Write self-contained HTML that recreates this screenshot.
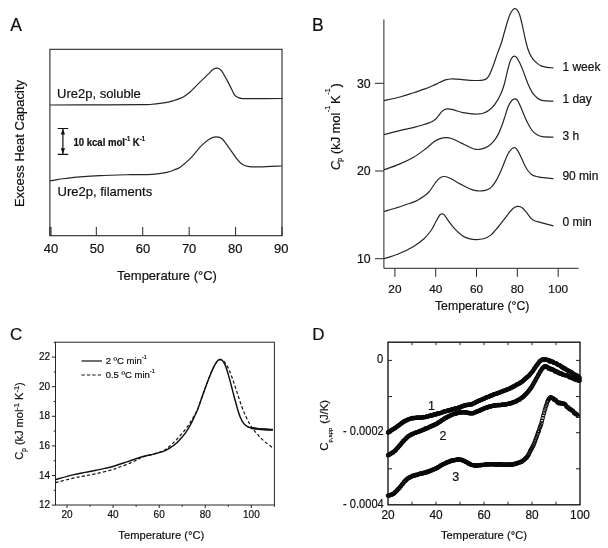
<!DOCTYPE html>
<html><head><meta charset="utf-8"><title>Figure</title>
<style>
html,body{margin:0;padding:0;background:#fff;}
svg{display:block;font-family:"Liberation Sans",sans-serif;}
text{fill:#101010;stroke:#101010;stroke-width:0.2px}
</style></head>
<body>
<svg width="608" height="548" viewBox="0 0 608 548">
<rect x="0" y="0" width="608" height="548" fill="#ffffff" stroke="none"/>
<rect x="49.9" y="49.3" width="232.1" height="186.39999999999998" fill="none" stroke="#262626" stroke-width="1.1"/>
<line x1="49.90" y1="235.7" x2="49.90" y2="226.89999999999998" stroke="#262626" stroke-width="1"/>
<text x="50.90" y="252.8" font-size="13" text-anchor="middle">40</text>
<line x1="96.32" y1="235.7" x2="96.32" y2="226.89999999999998" stroke="#262626" stroke-width="1"/>
<text x="96.98" y="252.8" font-size="13" text-anchor="middle">50</text>
<line x1="142.74" y1="235.7" x2="142.74" y2="226.89999999999998" stroke="#262626" stroke-width="1"/>
<text x="143.06" y="252.8" font-size="13" text-anchor="middle">60</text>
<line x1="189.16" y1="235.7" x2="189.16" y2="226.89999999999998" stroke="#262626" stroke-width="1"/>
<text x="189.14" y="252.8" font-size="13" text-anchor="middle">70</text>
<line x1="235.58" y1="235.7" x2="235.58" y2="226.89999999999998" stroke="#262626" stroke-width="1"/>
<text x="235.22" y="252.8" font-size="13" text-anchor="middle">80</text>
<line x1="282.00" y1="235.7" x2="282.00" y2="226.89999999999998" stroke="#262626" stroke-width="1"/>
<text x="281.30" y="252.8" font-size="13" text-anchor="middle">90</text>
<path d="M50.00,105.00 C58.33,104.98 85.00,104.95 100.00,104.90 C115.00,104.85 131.67,104.77 140.00,104.70 C148.33,104.63 146.03,104.80 150.00,104.50 C153.97,104.20 160.47,103.37 163.80,102.90 C167.13,102.43 168.08,102.17 170.00,101.70 C171.92,101.23 173.63,100.65 175.30,100.10 C176.97,99.55 178.47,99.05 180.00,98.40 C181.53,97.75 182.83,97.27 184.50,96.20 C186.17,95.13 188.08,93.68 190.00,92.00 C191.92,90.32 193.07,89.00 196.00,86.10 C198.93,83.20 204.72,77.40 207.60,74.60 C210.48,71.80 211.70,70.38 213.30,69.30 C214.90,68.22 215.85,67.87 217.20,68.10 C218.55,68.33 219.55,68.28 221.40,70.70 C223.25,73.12 226.20,78.70 228.30,82.60 C230.40,86.50 232.63,91.77 234.00,94.10 C235.37,96.43 235.67,95.97 236.50,96.60 C237.33,97.23 238.08,97.58 239.00,97.90 C239.92,98.22 240.72,98.37 242.00,98.50 C243.28,98.63 239.97,98.70 246.70,98.70 C253.43,98.70 276.45,98.53 282.40,98.50" fill="none" stroke="#262626" stroke-width="1.2"/>
<path d="M50.00,181.00 C51.17,180.77 54.50,180.02 57.00,179.60 C59.50,179.18 61.17,178.95 65.00,178.50 C68.83,178.05 74.17,177.38 80.00,176.90 C85.83,176.42 91.67,175.97 100.00,175.60 C108.33,175.23 121.33,174.92 130.00,174.70 C138.67,174.48 145.83,174.70 152.00,174.30 C158.17,173.90 163.33,173.02 167.00,172.30 C170.67,171.58 171.75,170.90 174.00,170.00 C176.25,169.10 177.68,168.92 180.50,166.90 C183.32,164.88 187.45,161.40 190.90,157.90 C194.35,154.40 198.08,149.05 201.20,145.90 C204.32,142.75 207.08,140.50 209.60,139.00 C212.12,137.50 214.18,136.90 216.30,136.90 C218.42,136.90 220.05,137.00 222.30,139.00 C224.55,141.00 227.30,145.50 229.80,148.90 C232.30,152.30 235.30,156.90 237.30,159.40 C239.30,161.90 240.05,162.75 241.80,163.90 C243.55,165.05 244.82,165.80 247.80,166.30 C250.78,166.80 254.07,166.95 259.70,166.90 C265.33,166.85 277.95,166.15 281.60,166.00" fill="none" stroke="#262626" stroke-width="1.2"/>
<text x="57" y="97.5" font-size="13">Ure2p, soluble</text>
<text x="57.5" y="196" font-size="13">Ure2p, filaments</text>
<text x="10.3" y="31.3" font-size="17.5">A</text>
<text transform="translate(24.3,143.5) rotate(-90)" font-size="13" text-anchor="middle">Excess Heat Capacity</text>
<text x="167" y="279.8" font-size="13" text-anchor="middle">Temperature (°C)</text>
<line x1="51" y1="235.7" x2="51" y2="226.89999999999998" stroke="#262626" stroke-width="1"/>
<path d="M57.7,128.5H68.2M57.7,154.3H68.2M62.9,128.5V154.3" stroke="#111" stroke-width="1.2" fill="none"/>
<path d="M62.9,129 l-2.2,5.5 h4.4z M62.9,153.8 l-2.2,-5.5 h4.4z" fill="#111"/>
<text x="73.4" y="145.8" font-size="10.6" font-weight="bold" textLength="71.6" lengthAdjust="spacingAndGlyphs">10 kcal mol<tspan font-size="6.5" dy="-5">-1</tspan><tspan dy="5"> K</tspan><tspan font-size="6.5" dy="-5">-1</tspan></text>
<path d="M383.9,19.5V268.3H578.5" fill="none" stroke="#262626" stroke-width="1"/>
<line x1="375" y1="83.3" x2="383.9" y2="83.3" stroke="#262626" stroke-width="1"/>
<text x="370.6" y="87.70" font-size="12.3" text-anchor="end">30</text>
<line x1="375" y1="171" x2="383.9" y2="171" stroke="#262626" stroke-width="1"/>
<text x="370.6" y="175.40" font-size="12.3" text-anchor="end">20</text>
<line x1="375" y1="258.7" x2="383.9" y2="258.7" stroke="#262626" stroke-width="1"/>
<text x="370.6" y="263.10" font-size="12.3" text-anchor="end">10</text>
<line x1="394.9" y1="268.3" x2="394.9" y2="276.8" stroke="#262626" stroke-width="1"/>
<text x="394.9" y="292.7" font-size="11.8" text-anchor="middle">20</text>
<line x1="435.7" y1="268.3" x2="435.7" y2="276.8" stroke="#262626" stroke-width="1"/>
<text x="435.7" y="292.7" font-size="11.8" text-anchor="middle">40</text>
<line x1="476.5" y1="268.3" x2="476.5" y2="276.8" stroke="#262626" stroke-width="1"/>
<text x="476.5" y="292.7" font-size="11.8" text-anchor="middle">60</text>
<line x1="517.3" y1="268.3" x2="517.3" y2="276.8" stroke="#262626" stroke-width="1"/>
<text x="517.3" y="292.7" font-size="11.8" text-anchor="middle">80</text>
<line x1="558.2" y1="268.3" x2="558.2" y2="276.8" stroke="#262626" stroke-width="1"/>
<text x="558.2" y="292.7" font-size="11.8" text-anchor="middle">100</text>
<text x="482.2" y="310.2" font-size="12.3" text-anchor="middle">Temperature (°C)</text>
<text x="312" y="31.3" font-size="17.5">B</text>
<text transform="translate(340.4,0) rotate(-90)"><tspan x="-169.90" y="0.00" font-size="12.5" font-style="italic">C</tspan><tspan x="-161.90" y="2.00" font-size="7.5">p</tspan><tspan x="-154.00" y="0.00" font-size="13">(kJ</tspan><tspan x="-133.50" y="0.00" font-size="13">mol</tspan><tspan x="-112.00" y="-10.50" font-size="7">-1</tspan><tspan x="-104.00" y="0.00" font-size="13">K</tspan><tspan x="-94.60" y="-10.50" font-size="7">-1</tspan><tspan x="-87.50" y="0.00" font-size="13">)</tspan></text>
<path d="M384.00,100.60 C386.67,100.00 395.18,98.27 400.00,97.00 C404.82,95.73 408.73,94.35 412.90,93.00 C417.07,91.65 421.72,90.10 425.00,88.90 C428.28,87.70 430.43,86.73 432.60,85.80 C434.77,84.87 436.35,84.08 438.00,83.30 C439.65,82.52 441.08,81.70 442.50,81.10 C443.92,80.50 445.13,80.05 446.50,79.70 C447.87,79.35 449.12,79.10 450.70,79.00 C452.28,78.90 454.08,79.00 456.00,79.10 C457.92,79.20 459.87,79.40 462.20,79.60 C464.53,79.80 467.37,80.15 470.00,80.30 C472.63,80.45 475.70,80.57 478.00,80.50 C480.30,80.43 482.33,80.23 483.80,79.90 C485.27,79.57 485.87,79.32 486.80,78.50 C487.73,77.68 488.35,77.08 489.40,75.00 C490.45,72.92 491.77,69.57 493.10,66.00 C494.43,62.43 496.05,57.35 497.40,53.60 C498.75,49.85 500.00,47.18 501.20,43.50 C502.40,39.82 503.45,35.50 504.60,31.50 C505.75,27.50 507.05,22.65 508.10,19.50 C509.15,16.35 510.08,14.25 510.90,12.60 C511.72,10.95 512.33,10.27 513.00,9.60 C513.67,8.93 514.22,8.57 514.90,8.60 C515.58,8.63 516.30,8.73 517.10,9.80 C517.90,10.87 518.78,12.20 519.70,15.00 C520.62,17.80 521.50,21.85 522.60,26.60 C523.70,31.35 525.18,39.13 526.30,43.50 C527.42,47.87 528.18,50.18 529.30,52.80 C530.42,55.42 531.77,57.52 533.00,59.20 C534.23,60.88 535.35,61.78 536.70,62.90 C538.05,64.02 539.38,65.17 541.10,65.90 C542.82,66.63 544.95,66.98 547.00,67.30 C549.05,67.62 552.33,67.72 553.40,67.80" fill="none" stroke="#262626" stroke-width="1.2"/>
<text x="562.4" y="70.9" font-size="12">1 week</text>
<path d="M384.00,134.60 C387.28,133.78 398.70,130.92 403.70,129.70 C408.70,128.48 410.72,128.13 414.00,127.30 C417.28,126.47 420.52,125.58 423.40,124.70 C426.28,123.82 429.28,122.90 431.30,122.00 C433.32,121.10 434.25,120.42 435.50,119.30 C436.75,118.18 437.62,116.72 438.80,115.30 C439.98,113.88 441.22,111.87 442.60,110.80 C443.98,109.73 445.37,109.08 447.10,108.90 C448.83,108.72 450.37,109.07 453.00,109.70 C455.63,110.33 459.60,112.00 462.90,112.70 C466.20,113.40 470.28,113.68 472.80,113.90 C475.32,114.12 476.28,114.10 478.00,114.00 C479.72,113.90 481.27,113.92 483.10,113.30 C484.93,112.68 487.02,111.82 489.00,110.30 C490.98,108.78 493.02,106.95 495.00,104.20 C496.98,101.45 499.32,97.25 500.90,93.80 C502.48,90.35 503.43,87.20 504.50,83.50 C505.57,79.80 506.38,75.22 507.30,71.60 C508.22,67.98 509.23,64.10 510.00,61.80 C510.77,59.50 511.20,58.75 511.90,57.80 C512.60,56.85 513.40,56.13 514.20,56.10 C515.00,56.07 515.78,56.48 516.70,57.60 C517.62,58.72 518.58,60.47 519.70,62.80 C520.82,65.13 522.05,68.15 523.40,71.60 C524.75,75.05 526.33,80.03 527.80,83.50 C529.27,86.97 530.72,90.07 532.20,92.40 C533.68,94.73 535.22,96.22 536.70,97.50 C538.18,98.78 539.38,99.53 541.10,100.10 C542.82,100.67 544.95,100.72 547.00,100.90 C549.05,101.08 552.33,101.15 553.40,101.20" fill="none" stroke="#262626" stroke-width="1.2"/>
<text x="562.4" y="103.0" font-size="12">1 day</text>
<path d="M384.00,169.80 C386.47,168.90 393.87,166.50 398.80,164.40 C403.73,162.30 409.17,159.77 413.60,157.20 C418.03,154.63 421.95,151.60 425.40,149.00 C428.85,146.40 431.83,143.33 434.30,141.60 C436.77,139.87 438.22,139.25 440.20,138.60 C442.18,137.95 444.22,137.67 446.20,137.70 C448.18,137.73 449.63,137.93 452.10,138.80 C454.57,139.67 458.02,141.48 461.00,142.90 C463.98,144.32 467.50,146.22 470.00,147.30 C472.50,148.38 474.02,149.13 476.00,149.40 C477.98,149.67 479.93,149.38 481.90,148.90 C483.87,148.42 485.82,147.80 487.80,146.50 C489.78,145.20 492.07,143.12 493.80,141.10 C495.53,139.08 496.85,137.00 498.20,134.40 C499.55,131.80 500.78,128.47 501.90,125.50 C503.02,122.53 503.92,119.60 504.90,116.60 C505.88,113.60 506.82,109.97 507.80,107.50 C508.78,105.03 509.93,103.12 510.80,101.80 C511.67,100.48 512.27,100.08 513.00,99.60 C513.73,99.12 514.47,98.77 515.20,98.90 C515.93,99.03 516.53,99.17 517.40,100.40 C518.27,101.63 519.28,103.83 520.40,106.30 C521.52,108.77 522.87,112.37 524.10,115.20 C525.33,118.03 526.45,120.72 527.80,123.30 C529.15,125.88 530.72,128.85 532.20,130.70 C533.68,132.55 534.97,133.42 536.70,134.40 C538.43,135.38 539.82,136.15 542.60,136.60 C545.38,137.05 551.60,137.02 553.40,137.10" fill="none" stroke="#262626" stroke-width="1.2"/>
<text x="562.4" y="139.8" font-size="12">3 h</text>
<path d="M384.00,211.50 C386.67,210.70 395.67,208.07 400.00,206.70 C404.33,205.33 407.00,204.43 410.00,203.30 C413.00,202.17 414.93,201.70 418.00,199.90 C421.07,198.10 425.43,195.45 428.40,192.50 C431.37,189.55 433.83,184.67 435.80,182.20 C437.77,179.73 438.72,178.65 440.20,177.70 C441.68,176.75 442.97,176.37 444.70,176.50 C446.43,176.63 447.88,177.18 450.60,178.50 C453.32,179.82 457.93,182.73 461.00,184.40 C464.07,186.07 466.50,187.45 469.00,188.50 C471.50,189.55 473.85,190.30 476.00,190.70 C478.15,191.10 479.93,191.10 481.90,190.90 C483.87,190.70 486.07,190.30 487.80,189.50 C489.53,188.70 490.82,187.75 492.30,186.10 C493.78,184.45 495.35,181.95 496.70,179.60 C498.05,177.25 499.17,174.75 500.40,172.00 C501.63,169.25 502.87,166.07 504.10,163.10 C505.33,160.13 506.57,156.53 507.80,154.20 C509.03,151.87 510.43,150.20 511.50,149.10 C512.57,148.00 513.33,147.60 514.20,147.60 C515.07,147.60 515.67,147.75 516.70,149.10 C517.73,150.45 519.17,153.23 520.40,155.70 C521.63,158.17 522.87,161.43 524.10,163.90 C525.33,166.37 526.45,168.65 527.80,170.50 C529.15,172.35 530.47,173.93 532.20,175.00 C533.93,176.07 535.97,176.42 538.20,176.90 C540.43,177.38 543.07,177.60 545.60,177.90 C548.13,178.20 552.10,178.57 553.40,178.70" fill="none" stroke="#262626" stroke-width="1.2"/>
<text x="562.4" y="179.5" font-size="12">90 min</text>
<path d="M384.00,258.80 C386.47,257.97 393.87,255.87 398.80,253.80 C403.73,251.73 409.40,248.90 413.60,246.40 C417.80,243.90 421.03,241.53 424.00,238.80 C426.97,236.07 429.43,232.83 431.40,230.00 C433.37,227.17 434.45,224.23 435.80,221.80 C437.15,219.37 438.67,216.67 439.50,215.40 C440.33,214.13 440.38,214.47 440.80,214.20 C441.22,213.93 441.60,213.82 442.00,213.80 C442.40,213.78 442.75,213.83 443.20,214.10 C443.65,214.37 443.72,214.12 444.70,215.40 C445.68,216.68 447.38,219.50 449.10,221.80 C450.82,224.10 452.78,226.88 455.00,229.20 C457.22,231.52 460.07,234.13 462.40,235.70 C464.73,237.27 466.73,237.95 469.00,238.60 C471.27,239.25 473.60,239.57 476.00,239.60 C478.40,239.63 480.93,239.55 483.40,238.80 C485.87,238.05 488.33,237.07 490.80,235.10 C493.27,233.13 495.73,229.95 498.20,227.00 C500.67,224.05 503.38,220.23 505.60,217.40 C507.82,214.57 509.90,211.73 511.50,210.00 C513.10,208.27 514.08,207.62 515.20,207.00 C516.32,206.38 517.08,206.22 518.20,206.30 C519.32,206.38 520.55,206.52 521.90,207.50 C523.25,208.48 524.82,210.43 526.30,212.20 C527.78,213.97 529.43,216.67 530.80,218.10 C532.17,219.53 532.78,220.05 534.50,220.80 C536.22,221.55 537.95,221.77 541.10,222.60 C544.25,223.43 551.35,225.27 553.40,225.80" fill="none" stroke="#262626" stroke-width="1.2"/>
<text x="562.4" y="226.1" font-size="12">0 min</text>
<rect x="55.5" y="342.2" width="218.89999999999998" height="162.8" fill="none" stroke="#262626" stroke-width="1"/>
<line x1="51.9" y1="505.10" x2="55.5" y2="505.10" stroke="#262626" stroke-width="1"/>
<text x="50.2" y="508.20" font-size="10" text-anchor="end">12</text>
<line x1="53.7" y1="490.30" x2="55.5" y2="490.30" stroke="#262626" stroke-width="1"/>
<line x1="51.9" y1="475.50" x2="55.5" y2="475.50" stroke="#262626" stroke-width="1"/>
<text x="50.2" y="478.60" font-size="10" text-anchor="end">14</text>
<line x1="53.7" y1="460.70" x2="55.5" y2="460.70" stroke="#262626" stroke-width="1"/>
<line x1="51.9" y1="445.90" x2="55.5" y2="445.90" stroke="#262626" stroke-width="1"/>
<text x="50.2" y="449.00" font-size="10" text-anchor="end">16</text>
<line x1="53.7" y1="431.10" x2="55.5" y2="431.10" stroke="#262626" stroke-width="1"/>
<line x1="51.9" y1="416.30" x2="55.5" y2="416.30" stroke="#262626" stroke-width="1"/>
<text x="50.2" y="419.40" font-size="10" text-anchor="end">18</text>
<line x1="53.7" y1="401.50" x2="55.5" y2="401.50" stroke="#262626" stroke-width="1"/>
<line x1="51.9" y1="386.70" x2="55.5" y2="386.70" stroke="#262626" stroke-width="1"/>
<text x="50.2" y="389.80" font-size="10" text-anchor="end">20</text>
<line x1="53.7" y1="371.90" x2="55.5" y2="371.90" stroke="#262626" stroke-width="1"/>
<line x1="51.9" y1="357.10" x2="55.5" y2="357.10" stroke="#262626" stroke-width="1"/>
<text x="50.2" y="360.20" font-size="10" text-anchor="end">22</text>
<line x1="53.7" y1="342.30" x2="55.5" y2="342.30" stroke="#262626" stroke-width="1"/>
<line x1="67.00" y1="505" x2="67.00" y2="508" stroke="#262626" stroke-width="1"/>
<text x="67.00" y="517.9" font-size="10" text-anchor="middle">20</text>
<line x1="90.05" y1="505" x2="90.05" y2="506.8" stroke="#262626" stroke-width="1"/>
<line x1="113.09" y1="505" x2="113.09" y2="508" stroke="#262626" stroke-width="1"/>
<text x="113.09" y="517.9" font-size="10" text-anchor="middle">40</text>
<line x1="136.13" y1="505" x2="136.13" y2="506.8" stroke="#262626" stroke-width="1"/>
<line x1="159.18" y1="505" x2="159.18" y2="508" stroke="#262626" stroke-width="1"/>
<text x="159.18" y="517.9" font-size="10" text-anchor="middle">60</text>
<line x1="182.22" y1="505" x2="182.22" y2="506.8" stroke="#262626" stroke-width="1"/>
<line x1="205.27" y1="505" x2="205.27" y2="508" stroke="#262626" stroke-width="1"/>
<text x="205.27" y="517.9" font-size="10" text-anchor="middle">80</text>
<line x1="228.31" y1="505" x2="228.31" y2="506.8" stroke="#262626" stroke-width="1"/>
<line x1="251.36" y1="505" x2="251.36" y2="508" stroke="#262626" stroke-width="1"/>
<text x="251.36" y="517.9" font-size="10" text-anchor="middle">100</text>
<line x1="274.40" y1="505" x2="274.40" y2="506.8" stroke="#262626" stroke-width="1"/>
<text x="161.3" y="539" font-size="11.2" text-anchor="middle">Temperature (°C)</text>
<text x="10" y="340" font-size="17">C</text>
<text transform="translate(23.2,421) rotate(-90)" font-size="11" text-anchor="middle"><tspan>C</tspan><tspan font-size="6.5" dy="3">p</tspan><tspan dy="-3"> (kJ mol</tspan><tspan font-size="7.5" dy="-4">-1</tspan><tspan dy="4"> K</tspan><tspan font-size="7.5" dy="-4">-1</tspan><tspan dy="4">)</tspan></text>
<line x1="81.5" y1="361" x2="102" y2="361" stroke="#111" stroke-width="1.2"/>
<line x1="81.5" y1="375" x2="102" y2="375" stroke="#111" stroke-width="1.2" stroke-dasharray="3.3,2.1"/>
<text x="105.7" y="364" font-size="9.5" fill="#2b2b2b">2 ºC min<tspan font-size="5.5" dy="-4.6">-1</tspan></text>
<text x="105.7" y="378" font-size="9.5" fill="#2b2b2b">0.5 ºC min<tspan font-size="5.5" dy="-4.6">-1</tspan></text>
<path d="M55.50,479.60 C58.42,478.82 68.08,476.10 73.00,474.90 C77.92,473.70 81.17,473.17 85.00,472.40 C88.83,471.63 92.67,470.97 96.00,470.30 C99.33,469.63 101.92,469.12 105.00,468.40 C108.08,467.68 110.62,467.17 114.50,466.00 C118.38,464.83 123.70,462.93 128.30,461.40 C132.90,459.87 137.88,458.02 142.10,456.80 C146.32,455.58 150.15,454.97 153.60,454.10 C157.05,453.23 160.12,452.58 162.80,451.60 C165.48,450.62 167.40,449.63 169.70,448.20 C172.00,446.77 174.72,444.65 176.60,443.00 C178.48,441.35 179.52,440.00 181.00,438.30 C182.48,436.60 184.00,434.92 185.50,432.80 C187.00,430.68 188.58,428.15 190.00,425.60 C191.42,423.05 192.65,420.40 194.00,417.50 C195.35,414.60 196.42,412.58 198.10,408.20 C199.78,403.82 202.08,396.72 204.10,391.20 C206.12,385.68 208.52,379.28 210.20,375.10 C211.88,370.92 213.03,368.43 214.20,366.10 C215.37,363.77 216.27,362.20 217.20,361.10 C218.13,360.00 218.90,359.57 219.80,359.50 C220.70,359.43 221.70,359.77 222.60,360.70 C223.50,361.63 224.27,362.87 225.20,365.10 C226.13,367.33 227.20,370.75 228.20,374.10 C229.20,377.45 230.18,381.35 231.20,385.20 C232.22,389.05 233.28,393.37 234.30,397.20 C235.32,401.03 236.30,404.85 237.30,408.20 C238.30,411.55 239.30,414.85 240.30,417.30 C241.30,419.75 242.30,421.47 243.30,422.90 C244.30,424.33 245.13,425.10 246.30,425.90 C247.47,426.70 248.63,427.27 250.30,427.70 C251.97,428.13 253.95,428.23 256.30,428.50 C258.65,428.77 261.65,429.10 264.40,429.30 C267.15,429.50 271.40,429.63 272.80,429.70" fill="none" stroke="#111" stroke-width="1.45"/>
<path d="M251.00,428.00 C251.88,428.12 254.07,428.47 256.30,428.70 C258.53,428.93 261.65,429.22 264.40,429.40 C267.15,429.58 271.40,429.73 272.80,429.80" fill="none" stroke="#111" stroke-width="2.1"/>
<path d="M55.50,482.70 C58.42,481.95 68.08,479.35 73.00,478.20 C77.92,477.05 81.17,476.55 85.00,475.80 C88.83,475.05 91.85,474.62 96.00,473.70 C100.15,472.78 106.05,471.37 109.90,470.30 C113.75,469.23 115.65,468.53 119.10,467.30 C122.55,466.07 127.53,464.17 130.60,462.90 C133.67,461.63 135.58,460.65 137.50,459.70 C139.42,458.75 139.42,458.15 142.10,457.20 C144.78,456.25 150.15,455.03 153.60,454.00 C157.05,452.97 160.40,452.07 162.80,451.00 C165.20,449.93 166.47,448.73 168.00,447.60 C169.53,446.47 170.18,445.97 172.00,444.20 C173.82,442.43 176.60,439.57 178.90,437.00 C181.20,434.43 183.95,431.17 185.80,428.80 C187.65,426.43 188.63,424.93 190.00,422.80 C191.37,420.67 192.65,418.47 194.00,416.00 C195.35,413.53 196.42,412.17 198.10,408.00 C199.78,403.83 202.08,396.50 204.10,391.00 C206.12,385.50 208.52,379.17 210.20,375.00 C211.88,370.83 212.98,368.28 214.20,366.00 C215.42,363.72 216.33,362.38 217.50,361.30 C218.67,360.22 219.92,359.20 221.20,359.50 C222.48,359.80 223.87,361.33 225.20,363.10 C226.53,364.87 227.85,367.10 229.20,370.10 C230.55,373.10 231.95,377.25 233.30,381.10 C234.65,384.95 235.97,389.18 237.30,393.20 C238.63,397.22 239.97,401.52 241.30,405.20 C242.63,408.88 243.97,412.28 245.30,415.30 C246.63,418.32 247.97,420.97 249.30,423.30 C250.63,425.63 251.78,427.28 253.30,429.30 C254.82,431.32 256.55,433.38 258.40,435.40 C260.25,437.42 262.00,439.33 264.40,441.40 C266.80,443.47 271.40,446.73 272.80,447.80" fill="none" stroke="#111" stroke-width="1.2" stroke-dasharray="3.2,2.2"/>
<rect x="388" y="342.2" width="192" height="162.60000000000002" fill="none" stroke="#111" stroke-width="1.35"/>
<line x1="412" y1="342.2" x2="412" y2="345.2" stroke="#222" stroke-width="1"/>
<line x1="412" y1="504.8" x2="412" y2="501.8" stroke="#222" stroke-width="1"/>
<line x1="436" y1="342.2" x2="436" y2="345.2" stroke="#222" stroke-width="1"/>
<line x1="436" y1="504.8" x2="436" y2="501.8" stroke="#222" stroke-width="1"/>
<line x1="460" y1="342.2" x2="460" y2="345.2" stroke="#222" stroke-width="1"/>
<line x1="460" y1="504.8" x2="460" y2="501.8" stroke="#222" stroke-width="1"/>
<line x1="484" y1="342.2" x2="484" y2="345.2" stroke="#222" stroke-width="1"/>
<line x1="484" y1="504.8" x2="484" y2="501.8" stroke="#222" stroke-width="1"/>
<line x1="508" y1="342.2" x2="508" y2="345.2" stroke="#222" stroke-width="1"/>
<line x1="508" y1="504.8" x2="508" y2="501.8" stroke="#222" stroke-width="1"/>
<line x1="532" y1="342.2" x2="532" y2="345.2" stroke="#222" stroke-width="1"/>
<line x1="532" y1="504.8" x2="532" y2="501.8" stroke="#222" stroke-width="1"/>
<line x1="556" y1="342.2" x2="556" y2="345.2" stroke="#222" stroke-width="1"/>
<line x1="556" y1="504.8" x2="556" y2="501.8" stroke="#222" stroke-width="1"/>
<line x1="388" y1="360.40" x2="392" y2="360.40" stroke="#222" stroke-width="1"/>
<line x1="580" y1="360.40" x2="576" y2="360.40" stroke="#222" stroke-width="1"/>
<line x1="388" y1="396.55" x2="392" y2="396.55" stroke="#222" stroke-width="1"/>
<line x1="580" y1="396.55" x2="576" y2="396.55" stroke="#222" stroke-width="1"/>
<line x1="388" y1="432.70" x2="392" y2="432.70" stroke="#222" stroke-width="1"/>
<line x1="580" y1="432.70" x2="576" y2="432.70" stroke="#222" stroke-width="1"/>
<line x1="388" y1="468.85" x2="392" y2="468.85" stroke="#222" stroke-width="1"/>
<line x1="580" y1="468.85" x2="576" y2="468.85" stroke="#222" stroke-width="1"/>
<text x="388.00" y="519.2" font-size="13.2" text-anchor="middle" textLength="13.2" lengthAdjust="spacingAndGlyphs">20</text>
<text x="436.00" y="519.2" font-size="13.2" text-anchor="middle" textLength="13.2" lengthAdjust="spacingAndGlyphs">40</text>
<text x="484.00" y="519.2" font-size="13.2" text-anchor="middle" textLength="13.2" lengthAdjust="spacingAndGlyphs">60</text>
<text x="532.00" y="519.2" font-size="13.2" text-anchor="middle" textLength="13.2" lengthAdjust="spacingAndGlyphs">80</text>
<text x="580.00" y="519.2" font-size="13.2" text-anchor="middle" textLength="19.8" lengthAdjust="spacingAndGlyphs">100</text>
<text x="383.2" y="363.2" font-size="13.5" text-anchor="end" textLength="6.2" lengthAdjust="spacingAndGlyphs">0</text>
<text x="383.7" y="435.4" font-size="13.3" text-anchor="end" textLength="40.6" lengthAdjust="spacingAndGlyphs">- 0.0002</text>
<text x="383.7" y="507.8" font-size="13.3" text-anchor="end" textLength="40.6" lengthAdjust="spacingAndGlyphs">- 0.0004</text>
<text x="484" y="539.2" font-size="11.2" text-anchor="middle">Temperature (°C)</text>
<text x="312.3" y="340" font-size="17">D</text>
<text transform="translate(328.4,0) rotate(-90)"><tspan x="-450.80" y="0.00" font-size="11.5">C</tspan><tspan x="-442.40" y="3.20" font-size="5.8">p,app</tspan><tspan x="-423.80" y="0.00" font-size="11.3">(J/K)</tspan></text>
<g fill="none" stroke="#0a0a0a" stroke-width="1.05"><circle cx="388.0" cy="432.5" r="1.7"/><circle cx="388.6" cy="432.2" r="1.7"/><circle cx="389.3" cy="431.7" r="1.7"/><circle cx="389.9" cy="431.4" r="1.7"/><circle cx="390.6" cy="431.0" r="1.7"/><circle cx="391.2" cy="430.3" r="1.7"/><circle cx="391.9" cy="429.8" r="1.7"/><circle cx="392.5" cy="429.8" r="1.7"/><circle cx="393.2" cy="429.1" r="1.7"/><circle cx="393.8" cy="428.7" r="1.7"/><circle cx="394.5" cy="428.6" r="1.7"/><circle cx="395.1" cy="427.9" r="1.7"/><circle cx="395.8" cy="427.6" r="1.7"/><circle cx="396.4" cy="427.0" r="1.7"/><circle cx="397.1" cy="426.6" r="1.7"/><circle cx="397.7" cy="425.9" r="1.7"/><circle cx="398.4" cy="425.6" r="1.7"/><circle cx="399.0" cy="425.3" r="1.7"/><circle cx="399.7" cy="424.6" r="1.7"/><circle cx="400.3" cy="424.2" r="1.7"/><circle cx="401.0" cy="423.7" r="1.7"/><circle cx="401.6" cy="422.9" r="1.7"/><circle cx="402.3" cy="422.8" r="1.7"/><circle cx="402.9" cy="422.3" r="1.7"/><circle cx="403.6" cy="421.7" r="1.7"/><circle cx="404.2" cy="421.2" r="1.7"/><circle cx="404.9" cy="421.2" r="1.7"/><circle cx="405.5" cy="420.6" r="1.7"/><circle cx="406.2" cy="420.4" r="1.7"/><circle cx="406.8" cy="420.2" r="1.7"/><circle cx="407.5" cy="419.8" r="1.7"/><circle cx="408.1" cy="419.6" r="1.7"/><circle cx="408.8" cy="419.1" r="1.7"/><circle cx="409.4" cy="419.1" r="1.7"/><circle cx="410.1" cy="418.7" r="1.7"/><circle cx="410.7" cy="418.8" r="1.7"/><circle cx="411.4" cy="418.6" r="1.7"/><circle cx="412.0" cy="418.1" r="1.7"/><circle cx="412.7" cy="418.0" r="1.7"/><circle cx="413.3" cy="418.0" r="1.7"/><circle cx="414.0" cy="418.2" r="1.7"/><circle cx="414.6" cy="417.9" r="1.7"/><circle cx="415.3" cy="417.9" r="1.7"/><circle cx="415.9" cy="417.7" r="1.7"/><circle cx="416.6" cy="417.7" r="1.7"/><circle cx="417.2" cy="417.6" r="1.7"/><circle cx="417.9" cy="417.5" r="1.7"/><circle cx="418.5" cy="417.6" r="1.7"/><circle cx="419.2" cy="417.6" r="1.7"/><circle cx="419.8" cy="417.7" r="1.7"/><circle cx="420.5" cy="417.5" r="1.7"/><circle cx="421.1" cy="417.6" r="1.7"/><circle cx="421.8" cy="417.5" r="1.7"/><circle cx="422.4" cy="417.5" r="1.7"/><circle cx="423.1" cy="417.3" r="1.7"/><circle cx="423.7" cy="416.9" r="1.7"/><circle cx="424.4" cy="417.2" r="1.7"/><circle cx="425.0" cy="417.1" r="1.7"/><circle cx="425.7" cy="417.0" r="1.7"/><circle cx="426.3" cy="416.7" r="1.7"/><circle cx="427.0" cy="416.6" r="1.7"/><circle cx="427.6" cy="416.2" r="1.7"/><circle cx="428.3" cy="416.4" r="1.7"/><circle cx="428.9" cy="416.1" r="1.7"/><circle cx="429.6" cy="415.8" r="1.7"/><circle cx="430.2" cy="415.5" r="1.7"/><circle cx="430.9" cy="415.7" r="1.7"/><circle cx="431.5" cy="415.6" r="1.7"/><circle cx="432.2" cy="415.0" r="1.7"/><circle cx="432.8" cy="415.2" r="1.7"/><circle cx="433.5" cy="414.8" r="1.7"/><circle cx="434.1" cy="414.5" r="1.7"/><circle cx="434.8" cy="414.4" r="1.7"/><circle cx="435.4" cy="414.5" r="1.7"/><circle cx="436.1" cy="414.4" r="1.7"/><circle cx="436.7" cy="413.7" r="1.7"/><circle cx="437.4" cy="413.8" r="1.7"/><circle cx="438.0" cy="413.4" r="1.7"/><circle cx="438.7" cy="413.5" r="1.7"/><circle cx="439.3" cy="413.1" r="1.7"/><circle cx="440.0" cy="413.2" r="1.7"/><circle cx="440.6" cy="413.0" r="1.7"/><circle cx="441.3" cy="412.6" r="1.7"/><circle cx="441.9" cy="412.7" r="1.7"/><circle cx="442.6" cy="412.1" r="1.7"/><circle cx="443.2" cy="411.8" r="1.7"/><circle cx="443.9" cy="411.9" r="1.7"/><circle cx="444.5" cy="411.4" r="1.7"/><circle cx="445.2" cy="411.3" r="1.7"/><circle cx="445.8" cy="411.2" r="1.7"/><circle cx="446.5" cy="411.1" r="1.7"/><circle cx="447.1" cy="410.7" r="1.7"/><circle cx="447.8" cy="410.4" r="1.7"/><circle cx="448.4" cy="410.7" r="1.7"/><circle cx="449.1" cy="410.2" r="1.7"/><circle cx="449.7" cy="410.3" r="1.7"/><circle cx="450.4" cy="410.1" r="1.7"/><circle cx="451.0" cy="409.6" r="1.7"/><circle cx="451.7" cy="409.5" r="1.7"/><circle cx="452.3" cy="409.3" r="1.7"/><circle cx="453.0" cy="409.2" r="1.7"/><circle cx="453.6" cy="409.0" r="1.7"/><circle cx="454.3" cy="408.8" r="1.7"/><circle cx="454.9" cy="408.7" r="1.7"/><circle cx="455.6" cy="408.7" r="1.7"/><circle cx="456.2" cy="408.3" r="1.7"/><circle cx="456.9" cy="408.1" r="1.7"/><circle cx="457.5" cy="408.1" r="1.7"/><circle cx="458.2" cy="407.7" r="1.7"/><circle cx="458.8" cy="407.5" r="1.7"/><circle cx="459.5" cy="407.7" r="1.7"/><circle cx="460.1" cy="407.2" r="1.7"/><circle cx="460.8" cy="407.0" r="1.7"/><circle cx="461.4" cy="406.5" r="1.7"/><circle cx="462.1" cy="406.5" r="1.7"/><circle cx="462.7" cy="406.3" r="1.7"/><circle cx="463.4" cy="405.8" r="1.7"/><circle cx="464.0" cy="405.8" r="1.7"/><circle cx="464.7" cy="405.6" r="1.7"/><circle cx="465.3" cy="405.1" r="1.7"/><circle cx="466.0" cy="405.2" r="1.7"/><circle cx="466.6" cy="405.0" r="1.7"/><circle cx="467.3" cy="405.0" r="1.7"/><circle cx="467.9" cy="404.8" r="1.7"/><circle cx="468.6" cy="404.9" r="1.7"/><circle cx="469.2" cy="404.8" r="1.7"/><circle cx="469.9" cy="404.4" r="1.7"/><circle cx="470.5" cy="404.3" r="1.7"/><circle cx="471.2" cy="404.4" r="1.7"/><circle cx="471.8" cy="404.4" r="1.7"/><circle cx="472.5" cy="403.8" r="1.7"/><circle cx="473.1" cy="403.6" r="1.7"/><circle cx="473.8" cy="403.4" r="1.7"/><circle cx="474.4" cy="402.9" r="1.7"/><circle cx="475.1" cy="402.7" r="1.7"/><circle cx="475.7" cy="402.3" r="1.7"/><circle cx="476.4" cy="402.0" r="1.7"/><circle cx="477.0" cy="401.8" r="1.7"/><circle cx="477.7" cy="401.3" r="1.7"/><circle cx="478.3" cy="401.0" r="1.7"/><circle cx="479.0" cy="400.9" r="1.7"/><circle cx="479.6" cy="400.3" r="1.7"/><circle cx="480.3" cy="400.3" r="1.7"/><circle cx="480.9" cy="400.1" r="1.7"/><circle cx="481.6" cy="399.6" r="1.7"/><circle cx="482.2" cy="399.2" r="1.7"/><circle cx="482.9" cy="399.2" r="1.7"/><circle cx="483.5" cy="398.7" r="1.7"/><circle cx="484.2" cy="398.4" r="1.7"/><circle cx="484.8" cy="398.2" r="1.7"/><circle cx="485.5" cy="398.1" r="1.7"/><circle cx="486.1" cy="397.5" r="1.7"/><circle cx="486.8" cy="397.3" r="1.7"/><circle cx="487.4" cy="397.1" r="1.7"/><circle cx="488.1" cy="397.0" r="1.7"/><circle cx="488.7" cy="396.6" r="1.7"/><circle cx="489.4" cy="396.5" r="1.7"/><circle cx="490.0" cy="395.9" r="1.7"/><circle cx="490.7" cy="395.7" r="1.7"/><circle cx="491.3" cy="395.6" r="1.7"/><circle cx="492.0" cy="395.5" r="1.7"/><circle cx="492.6" cy="395.0" r="1.7"/><circle cx="493.3" cy="394.6" r="1.7"/><circle cx="493.9" cy="394.3" r="1.7"/><circle cx="494.6" cy="394.3" r="1.7"/><circle cx="495.2" cy="393.9" r="1.7"/><circle cx="495.9" cy="393.9" r="1.7"/><circle cx="496.5" cy="393.7" r="1.7"/><circle cx="497.2" cy="393.2" r="1.7"/><circle cx="497.8" cy="393.0" r="1.7"/><circle cx="498.5" cy="393.0" r="1.7"/><circle cx="499.1" cy="392.7" r="1.7"/><circle cx="499.8" cy="392.5" r="1.7"/><circle cx="500.4" cy="392.1" r="1.7"/><circle cx="501.1" cy="391.7" r="1.7"/><circle cx="501.7" cy="391.6" r="1.7"/><circle cx="502.4" cy="391.6" r="1.7"/><circle cx="503.0" cy="391.1" r="1.7"/><circle cx="503.7" cy="390.8" r="1.7"/><circle cx="504.3" cy="390.6" r="1.7"/><circle cx="505.0" cy="390.4" r="1.7"/><circle cx="505.6" cy="390.1" r="1.7"/><circle cx="506.3" cy="390.1" r="1.7"/><circle cx="506.9" cy="389.4" r="1.7"/><circle cx="507.6" cy="389.1" r="1.7"/><circle cx="508.2" cy="389.2" r="1.7"/><circle cx="508.9" cy="388.9" r="1.7"/><circle cx="509.5" cy="388.7" r="1.7"/><circle cx="510.2" cy="388.1" r="1.7"/><circle cx="510.8" cy="388.0" r="1.7"/><circle cx="511.5" cy="387.7" r="1.7"/><circle cx="512.1" cy="387.0" r="1.7"/><circle cx="512.8" cy="387.0" r="1.7"/><circle cx="513.4" cy="386.7" r="1.7"/><circle cx="514.1" cy="386.3" r="1.7"/><circle cx="514.7" cy="385.9" r="1.7"/><circle cx="515.4" cy="385.4" r="1.7"/><circle cx="516.0" cy="385.1" r="1.7"/><circle cx="516.7" cy="384.7" r="1.7"/><circle cx="517.3" cy="384.3" r="1.7"/><circle cx="518.0" cy="384.1" r="1.7"/><circle cx="518.6" cy="383.6" r="1.7"/><circle cx="519.3" cy="383.5" r="1.7"/><circle cx="519.9" cy="382.7" r="1.7"/><circle cx="520.6" cy="382.7" r="1.7"/><circle cx="521.2" cy="382.1" r="1.7"/><circle cx="521.9" cy="381.8" r="1.7"/><circle cx="522.5" cy="381.3" r="1.7"/><circle cx="523.2" cy="380.8" r="1.7"/><circle cx="523.8" cy="380.1" r="1.7"/><circle cx="524.5" cy="379.3" r="1.7"/><circle cx="525.1" cy="379.1" r="1.7"/><circle cx="525.8" cy="378.3" r="1.7"/><circle cx="526.4" cy="377.8" r="1.7"/><circle cx="527.1" cy="377.3" r="1.7"/><circle cx="527.7" cy="376.7" r="1.7"/><circle cx="528.4" cy="376.0" r="1.7"/><circle cx="529.0" cy="375.6" r="1.7"/><circle cx="529.7" cy="374.7" r="1.7"/><circle cx="530.3" cy="373.9" r="1.7"/><circle cx="531.0" cy="373.1" r="1.7"/><circle cx="531.6" cy="372.6" r="1.7"/><circle cx="532.3" cy="371.6" r="1.7"/><circle cx="532.9" cy="370.9" r="1.7"/><circle cx="533.6" cy="369.8" r="1.7"/><circle cx="534.2" cy="368.8" r="1.7"/><circle cx="534.9" cy="368.0" r="1.7"/><circle cx="535.5" cy="367.1" r="1.7"/><circle cx="536.2" cy="365.8" r="1.7"/><circle cx="536.8" cy="365.2" r="1.7"/><circle cx="537.5" cy="364.4" r="1.7"/><circle cx="538.1" cy="363.5" r="1.7"/><circle cx="538.8" cy="362.6" r="1.7"/><circle cx="539.4" cy="361.5" r="1.7"/><circle cx="540.1" cy="361.1" r="1.7"/><circle cx="540.7" cy="360.8" r="1.7"/><circle cx="541.4" cy="359.9" r="1.7"/><circle cx="542.0" cy="359.7" r="1.7"/><circle cx="542.7" cy="359.5" r="1.7"/><circle cx="543.3" cy="359.5" r="1.7"/><circle cx="544.0" cy="359.4" r="1.7"/><circle cx="544.6" cy="359.5" r="1.7"/><circle cx="545.3" cy="359.7" r="1.7"/><circle cx="545.9" cy="359.5" r="1.7"/><circle cx="546.6" cy="359.7" r="1.7"/><circle cx="547.2" cy="359.9" r="1.7"/><circle cx="547.9" cy="360.1" r="1.7"/><circle cx="548.5" cy="360.0" r="1.7"/><circle cx="549.2" cy="361.3" r="1.7"/><circle cx="549.8" cy="361.4" r="1.7"/><circle cx="550.5" cy="360.7" r="1.7"/><circle cx="551.1" cy="361.4" r="1.7"/><circle cx="551.8" cy="361.4" r="1.7"/><circle cx="552.4" cy="361.7" r="1.7"/><circle cx="553.1" cy="362.0" r="1.7"/><circle cx="553.7" cy="362.7" r="1.7"/><circle cx="554.4" cy="362.9" r="1.7"/><circle cx="555.0" cy="362.9" r="1.7"/><circle cx="555.7" cy="363.1" r="1.7"/><circle cx="556.3" cy="363.6" r="1.7"/><circle cx="557.0" cy="363.7" r="1.7"/><circle cx="557.6" cy="364.6" r="1.7"/><circle cx="558.3" cy="365.1" r="1.7"/><circle cx="558.9" cy="365.1" r="1.7"/><circle cx="559.6" cy="365.1" r="1.7"/><circle cx="560.2" cy="365.6" r="1.7"/><circle cx="560.9" cy="366.2" r="1.7"/><circle cx="561.5" cy="366.8" r="1.7"/><circle cx="562.2" cy="367.4" r="1.7"/><circle cx="562.8" cy="367.3" r="1.7"/><circle cx="563.5" cy="368.2" r="1.7"/><circle cx="564.1" cy="368.4" r="1.7"/><circle cx="564.8" cy="368.5" r="1.7"/><circle cx="565.4" cy="368.8" r="1.7"/><circle cx="566.1" cy="369.4" r="1.7"/><circle cx="566.7" cy="370.0" r="1.7"/><circle cx="567.4" cy="370.1" r="1.7"/><circle cx="568.0" cy="370.8" r="1.7"/><circle cx="568.7" cy="370.9" r="1.7"/><circle cx="569.3" cy="371.0" r="1.7"/><circle cx="570.0" cy="371.8" r="1.7"/><circle cx="570.6" cy="372.4" r="1.7"/><circle cx="571.3" cy="372.0" r="1.7"/><circle cx="571.9" cy="372.8" r="1.7"/><circle cx="572.6" cy="373.2" r="1.7"/><circle cx="573.2" cy="374.1" r="1.7"/><circle cx="573.9" cy="374.6" r="1.7"/><circle cx="574.5" cy="374.3" r="1.7"/><circle cx="575.2" cy="375.3" r="1.7"/><circle cx="575.8" cy="375.5" r="1.7"/><circle cx="576.5" cy="375.3" r="1.7"/><circle cx="577.1" cy="375.9" r="1.7"/><circle cx="577.8" cy="375.9" r="1.7"/><circle cx="578.4" cy="377.1" r="1.7"/><circle cx="579.1" cy="377.3" r="1.7"/><circle cx="579.7" cy="377.9" r="1.7"/></g>
<g fill="none" stroke="#0a0a0a" stroke-width="1.05"><circle cx="388.0" cy="455.3" r="1.7"/><circle cx="388.6" cy="454.9" r="1.7"/><circle cx="389.3" cy="454.6" r="1.7"/><circle cx="389.9" cy="454.2" r="1.7"/><circle cx="390.6" cy="453.6" r="1.7"/><circle cx="391.2" cy="453.5" r="1.7"/><circle cx="391.9" cy="452.9" r="1.7"/><circle cx="392.5" cy="452.5" r="1.7"/><circle cx="393.2" cy="452.4" r="1.7"/><circle cx="393.8" cy="451.6" r="1.7"/><circle cx="394.5" cy="451.1" r="1.7"/><circle cx="395.1" cy="450.5" r="1.7"/><circle cx="395.8" cy="450.2" r="1.7"/><circle cx="396.4" cy="449.1" r="1.7"/><circle cx="397.1" cy="448.3" r="1.7"/><circle cx="397.7" cy="447.9" r="1.7"/><circle cx="398.4" cy="446.7" r="1.7"/><circle cx="399.0" cy="446.3" r="1.7"/><circle cx="399.7" cy="445.4" r="1.7"/><circle cx="400.3" cy="444.7" r="1.7"/><circle cx="401.0" cy="443.9" r="1.7"/><circle cx="401.6" cy="443.0" r="1.7"/><circle cx="402.3" cy="442.4" r="1.7"/><circle cx="402.9" cy="441.3" r="1.7"/><circle cx="403.6" cy="441.0" r="1.7"/><circle cx="404.2" cy="440.2" r="1.7"/><circle cx="404.9" cy="439.6" r="1.7"/><circle cx="405.5" cy="438.7" r="1.7"/><circle cx="406.2" cy="438.4" r="1.7"/><circle cx="406.8" cy="437.8" r="1.7"/><circle cx="407.5" cy="436.8" r="1.7"/><circle cx="408.1" cy="436.4" r="1.7"/><circle cx="408.8" cy="436.1" r="1.7"/><circle cx="409.4" cy="435.8" r="1.7"/><circle cx="410.1" cy="435.1" r="1.7"/><circle cx="410.7" cy="434.7" r="1.7"/><circle cx="411.4" cy="434.4" r="1.7"/><circle cx="412.0" cy="434.3" r="1.7"/><circle cx="412.7" cy="434.1" r="1.7"/><circle cx="413.3" cy="433.6" r="1.7"/><circle cx="414.0" cy="433.3" r="1.7"/><circle cx="414.6" cy="433.1" r="1.7"/><circle cx="415.3" cy="432.8" r="1.7"/><circle cx="415.9" cy="432.6" r="1.7"/><circle cx="416.6" cy="432.2" r="1.7"/><circle cx="417.2" cy="432.1" r="1.7"/><circle cx="417.9" cy="432.1" r="1.7"/><circle cx="418.5" cy="431.6" r="1.7"/><circle cx="419.2" cy="431.5" r="1.7"/><circle cx="419.8" cy="431.0" r="1.7"/><circle cx="420.5" cy="431.0" r="1.7"/><circle cx="421.1" cy="430.7" r="1.7"/><circle cx="421.8" cy="430.4" r="1.7"/><circle cx="422.4" cy="430.1" r="1.7"/><circle cx="423.1" cy="429.8" r="1.7"/><circle cx="423.7" cy="429.6" r="1.7"/><circle cx="424.4" cy="429.5" r="1.7"/><circle cx="425.0" cy="428.8" r="1.7"/><circle cx="425.7" cy="428.5" r="1.7"/><circle cx="426.3" cy="428.5" r="1.7"/><circle cx="427.0" cy="428.4" r="1.7"/><circle cx="427.6" cy="427.9" r="1.7"/><circle cx="428.3" cy="427.6" r="1.7"/><circle cx="428.9" cy="427.4" r="1.7"/><circle cx="429.6" cy="426.9" r="1.7"/><circle cx="430.2" cy="426.6" r="1.7"/><circle cx="430.9" cy="426.3" r="1.7"/><circle cx="431.5" cy="426.2" r="1.7"/><circle cx="432.2" cy="425.7" r="1.7"/><circle cx="432.8" cy="425.4" r="1.7"/><circle cx="433.5" cy="425.3" r="1.7"/><circle cx="434.1" cy="425.2" r="1.7"/><circle cx="434.8" cy="424.5" r="1.7"/><circle cx="435.4" cy="424.4" r="1.7"/><circle cx="436.1" cy="424.0" r="1.7"/><circle cx="436.7" cy="423.8" r="1.7"/><circle cx="437.4" cy="423.4" r="1.7"/><circle cx="438.0" cy="422.8" r="1.7"/><circle cx="438.7" cy="422.4" r="1.7"/><circle cx="439.3" cy="421.9" r="1.7"/><circle cx="440.0" cy="421.7" r="1.7"/><circle cx="440.6" cy="421.2" r="1.7"/><circle cx="441.3" cy="420.7" r="1.7"/><circle cx="441.9" cy="420.3" r="1.7"/><circle cx="442.6" cy="419.8" r="1.7"/><circle cx="443.2" cy="419.6" r="1.7"/><circle cx="443.9" cy="418.8" r="1.7"/><circle cx="444.5" cy="418.8" r="1.7"/><circle cx="445.2" cy="418.1" r="1.7"/><circle cx="445.8" cy="417.8" r="1.7"/><circle cx="446.5" cy="417.4" r="1.7"/><circle cx="447.1" cy="417.2" r="1.7"/><circle cx="447.8" cy="416.8" r="1.7"/><circle cx="448.4" cy="416.4" r="1.7"/><circle cx="449.1" cy="416.0" r="1.7"/><circle cx="449.7" cy="415.8" r="1.7"/><circle cx="450.4" cy="415.6" r="1.7"/><circle cx="451.0" cy="415.1" r="1.7"/><circle cx="451.7" cy="415.0" r="1.7"/><circle cx="452.3" cy="414.8" r="1.7"/><circle cx="453.0" cy="414.3" r="1.7"/><circle cx="453.6" cy="413.9" r="1.7"/><circle cx="454.3" cy="413.7" r="1.7"/><circle cx="454.9" cy="413.7" r="1.7"/><circle cx="455.6" cy="413.5" r="1.7"/><circle cx="456.2" cy="413.5" r="1.7"/><circle cx="456.9" cy="413.2" r="1.7"/><circle cx="457.5" cy="412.8" r="1.7"/><circle cx="458.2" cy="412.6" r="1.7"/><circle cx="458.8" cy="412.5" r="1.7"/><circle cx="459.5" cy="412.3" r="1.7"/><circle cx="460.1" cy="412.5" r="1.7"/><circle cx="460.8" cy="412.5" r="1.7"/><circle cx="461.4" cy="412.4" r="1.7"/><circle cx="462.1" cy="412.1" r="1.7"/><circle cx="462.7" cy="412.4" r="1.7"/><circle cx="463.4" cy="412.1" r="1.7"/><circle cx="464.0" cy="412.2" r="1.7"/><circle cx="464.7" cy="412.4" r="1.7"/><circle cx="465.3" cy="412.2" r="1.7"/><circle cx="466.0" cy="412.2" r="1.7"/><circle cx="466.6" cy="412.7" r="1.7"/><circle cx="467.3" cy="412.6" r="1.7"/><circle cx="467.9" cy="412.8" r="1.7"/><circle cx="468.6" cy="413.0" r="1.7"/><circle cx="469.2" cy="413.2" r="1.7"/><circle cx="469.9" cy="413.0" r="1.7"/><circle cx="470.5" cy="413.3" r="1.7"/><circle cx="471.2" cy="413.4" r="1.7"/><circle cx="471.8" cy="413.4" r="1.7"/><circle cx="472.5" cy="413.1" r="1.7"/><circle cx="473.1" cy="413.2" r="1.7"/><circle cx="473.8" cy="413.1" r="1.7"/><circle cx="474.4" cy="412.6" r="1.7"/><circle cx="475.1" cy="412.4" r="1.7"/><circle cx="475.7" cy="411.9" r="1.7"/><circle cx="476.4" cy="411.7" r="1.7"/><circle cx="477.0" cy="411.6" r="1.7"/><circle cx="477.7" cy="411.1" r="1.7"/><circle cx="478.3" cy="411.2" r="1.7"/><circle cx="479.0" cy="410.9" r="1.7"/><circle cx="479.6" cy="410.2" r="1.7"/><circle cx="480.3" cy="410.4" r="1.7"/><circle cx="480.9" cy="409.8" r="1.7"/><circle cx="481.6" cy="409.7" r="1.7"/><circle cx="482.2" cy="409.4" r="1.7"/><circle cx="482.9" cy="408.9" r="1.7"/><circle cx="483.5" cy="408.8" r="1.7"/><circle cx="484.2" cy="408.5" r="1.7"/><circle cx="484.8" cy="408.3" r="1.7"/><circle cx="485.5" cy="407.8" r="1.7"/><circle cx="486.1" cy="407.8" r="1.7"/><circle cx="486.8" cy="407.7" r="1.7"/><circle cx="487.4" cy="407.4" r="1.7"/><circle cx="488.1" cy="407.1" r="1.7"/><circle cx="488.7" cy="406.7" r="1.7"/><circle cx="489.4" cy="406.7" r="1.7"/><circle cx="490.0" cy="406.4" r="1.7"/><circle cx="490.7" cy="406.4" r="1.7"/><circle cx="491.3" cy="406.3" r="1.7"/><circle cx="492.0" cy="406.1" r="1.7"/><circle cx="492.6" cy="405.7" r="1.7"/><circle cx="493.3" cy="405.8" r="1.7"/><circle cx="493.9" cy="405.7" r="1.7"/><circle cx="494.6" cy="405.3" r="1.7"/><circle cx="495.2" cy="405.6" r="1.7"/><circle cx="495.9" cy="405.4" r="1.7"/><circle cx="496.5" cy="405.1" r="1.7"/><circle cx="497.2" cy="405.4" r="1.7"/><circle cx="497.8" cy="405.0" r="1.7"/><circle cx="498.5" cy="405.0" r="1.7"/><circle cx="499.1" cy="405.2" r="1.7"/><circle cx="499.8" cy="405.1" r="1.7"/><circle cx="500.4" cy="405.0" r="1.7"/><circle cx="501.1" cy="405.0" r="1.7"/><circle cx="501.7" cy="404.8" r="1.7"/><circle cx="502.4" cy="404.7" r="1.7"/><circle cx="503.0" cy="404.5" r="1.7"/><circle cx="503.7" cy="404.4" r="1.7"/><circle cx="504.3" cy="404.6" r="1.7"/><circle cx="505.0" cy="404.6" r="1.7"/><circle cx="505.6" cy="404.4" r="1.7"/><circle cx="506.3" cy="404.4" r="1.7"/><circle cx="506.9" cy="404.1" r="1.7"/><circle cx="507.6" cy="403.9" r="1.7"/><circle cx="508.2" cy="403.8" r="1.7"/><circle cx="508.9" cy="403.9" r="1.7"/><circle cx="509.5" cy="403.4" r="1.7"/><circle cx="510.2" cy="403.4" r="1.7"/><circle cx="510.8" cy="403.1" r="1.7"/><circle cx="511.5" cy="403.2" r="1.7"/><circle cx="512.1" cy="402.7" r="1.7"/><circle cx="512.8" cy="402.5" r="1.7"/><circle cx="513.4" cy="402.3" r="1.7"/><circle cx="514.1" cy="402.1" r="1.7"/><circle cx="514.7" cy="402.0" r="1.7"/><circle cx="515.4" cy="401.5" r="1.7"/><circle cx="516.0" cy="401.5" r="1.7"/><circle cx="516.7" cy="400.8" r="1.7"/><circle cx="517.3" cy="400.6" r="1.7"/><circle cx="518.0" cy="400.2" r="1.7"/><circle cx="518.6" cy="399.8" r="1.7"/><circle cx="519.3" cy="399.7" r="1.7"/><circle cx="519.9" cy="399.3" r="1.7"/><circle cx="520.6" cy="398.6" r="1.7"/><circle cx="521.2" cy="398.1" r="1.7"/><circle cx="521.9" cy="397.7" r="1.7"/><circle cx="522.5" cy="397.3" r="1.7"/><circle cx="523.2" cy="396.8" r="1.7"/><circle cx="523.8" cy="396.2" r="1.7"/><circle cx="524.5" cy="395.5" r="1.7"/><circle cx="525.1" cy="394.7" r="1.7"/><circle cx="525.8" cy="394.2" r="1.7"/><circle cx="526.4" cy="393.4" r="1.7"/><circle cx="527.1" cy="392.8" r="1.7"/><circle cx="527.7" cy="392.1" r="1.7"/><circle cx="528.4" cy="391.2" r="1.7"/><circle cx="529.0" cy="390.4" r="1.7"/><circle cx="529.7" cy="389.8" r="1.7"/><circle cx="530.3" cy="388.5" r="1.7"/><circle cx="531.0" cy="388.0" r="1.7"/><circle cx="531.6" cy="387.0" r="1.7"/><circle cx="532.3" cy="386.0" r="1.7"/><circle cx="532.9" cy="384.6" r="1.7"/><circle cx="533.6" cy="383.5" r="1.7"/><circle cx="534.2" cy="382.4" r="1.7"/><circle cx="534.9" cy="381.3" r="1.7"/><circle cx="535.5" cy="380.3" r="1.7"/><circle cx="536.2" cy="379.0" r="1.7"/><circle cx="536.8" cy="377.6" r="1.7"/><circle cx="537.5" cy="376.7" r="1.7"/><circle cx="538.1" cy="375.3" r="1.7"/><circle cx="538.8" cy="374.2" r="1.7"/><circle cx="539.4" cy="373.1" r="1.7"/><circle cx="540.1" cy="371.6" r="1.7"/><circle cx="540.7" cy="370.9" r="1.7"/><circle cx="541.4" cy="369.8" r="1.7"/><circle cx="542.0" cy="368.7" r="1.7"/><circle cx="542.7" cy="368.0" r="1.7"/><circle cx="543.3" cy="367.4" r="1.7"/><circle cx="544.0" cy="366.8" r="1.7"/><circle cx="544.6" cy="366.7" r="1.7"/><circle cx="545.3" cy="366.3" r="1.7"/><circle cx="545.9" cy="366.5" r="1.7"/><circle cx="546.6" cy="366.7" r="1.7"/><circle cx="547.2" cy="367.0" r="1.7"/><circle cx="547.9" cy="367.5" r="1.7"/><circle cx="548.5" cy="368.4" r="1.7"/><circle cx="549.2" cy="368.7" r="1.7"/><circle cx="549.8" cy="368.1" r="1.7"/><circle cx="550.5" cy="369.2" r="1.7"/><circle cx="551.1" cy="369.3" r="1.7"/><circle cx="551.8" cy="369.0" r="1.7"/><circle cx="552.4" cy="369.6" r="1.7"/><circle cx="553.1" cy="369.8" r="1.7"/><circle cx="553.7" cy="369.9" r="1.7"/><circle cx="554.4" cy="370.7" r="1.7"/><circle cx="555.0" cy="371.5" r="1.7"/><circle cx="555.7" cy="371.0" r="1.7"/><circle cx="556.3" cy="372.0" r="1.7"/><circle cx="557.0" cy="372.0" r="1.7"/><circle cx="557.6" cy="371.6" r="1.7"/><circle cx="558.3" cy="372.8" r="1.7"/><circle cx="558.9" cy="372.8" r="1.7"/><circle cx="559.6" cy="373.4" r="1.7"/><circle cx="560.2" cy="373.4" r="1.7"/><circle cx="560.9" cy="373.7" r="1.7"/><circle cx="561.5" cy="373.5" r="1.7"/><circle cx="562.2" cy="374.3" r="1.7"/><circle cx="562.8" cy="374.8" r="1.7"/><circle cx="563.5" cy="374.9" r="1.7"/><circle cx="564.1" cy="374.7" r="1.7"/><circle cx="564.8" cy="375.3" r="1.7"/><circle cx="565.4" cy="375.3" r="1.7"/><circle cx="566.1" cy="375.1" r="1.7"/><circle cx="566.7" cy="375.3" r="1.7"/><circle cx="567.4" cy="375.6" r="1.7"/><circle cx="568.0" cy="376.0" r="1.7"/><circle cx="568.7" cy="376.2" r="1.7"/><circle cx="569.3" cy="376.9" r="1.7"/><circle cx="570.0" cy="377.4" r="1.7"/><circle cx="570.6" cy="377.5" r="1.7"/><circle cx="571.3" cy="377.6" r="1.7"/><circle cx="571.9" cy="378.1" r="1.7"/><circle cx="572.6" cy="378.0" r="1.7"/><circle cx="573.2" cy="378.4" r="1.7"/><circle cx="573.9" cy="379.0" r="1.7"/><circle cx="574.5" cy="378.8" r="1.7"/><circle cx="575.2" cy="378.8" r="1.7"/><circle cx="575.8" cy="379.9" r="1.7"/><circle cx="576.5" cy="380.0" r="1.7"/><circle cx="577.1" cy="379.8" r="1.7"/><circle cx="577.8" cy="380.0" r="1.7"/><circle cx="578.4" cy="380.5" r="1.7"/><circle cx="579.1" cy="380.8" r="1.7"/><circle cx="579.7" cy="380.6" r="1.7"/></g>
<g fill="none" stroke="#0a0a0a" stroke-width="1.05"><circle cx="388.0" cy="495.6" r="1.7"/><circle cx="388.6" cy="495.5" r="1.7"/><circle cx="389.3" cy="495.6" r="1.7"/><circle cx="389.9" cy="495.1" r="1.7"/><circle cx="390.6" cy="495.1" r="1.7"/><circle cx="391.2" cy="494.7" r="1.7"/><circle cx="391.9" cy="494.5" r="1.7"/><circle cx="392.5" cy="494.2" r="1.7"/><circle cx="393.2" cy="493.9" r="1.7"/><circle cx="393.8" cy="493.4" r="1.7"/><circle cx="394.5" cy="492.8" r="1.7"/><circle cx="395.1" cy="492.2" r="1.7"/><circle cx="395.8" cy="491.6" r="1.7"/><circle cx="396.4" cy="491.1" r="1.7"/><circle cx="397.1" cy="490.2" r="1.7"/><circle cx="397.7" cy="489.5" r="1.7"/><circle cx="398.4" cy="489.0" r="1.7"/><circle cx="399.0" cy="488.2" r="1.7"/><circle cx="399.7" cy="487.7" r="1.7"/><circle cx="400.3" cy="486.6" r="1.7"/><circle cx="401.0" cy="485.9" r="1.7"/><circle cx="401.6" cy="485.1" r="1.7"/><circle cx="402.3" cy="484.1" r="1.7"/><circle cx="402.9" cy="483.7" r="1.7"/><circle cx="403.6" cy="482.5" r="1.7"/><circle cx="404.2" cy="481.7" r="1.7"/><circle cx="404.9" cy="481.2" r="1.7"/><circle cx="405.5" cy="480.4" r="1.7"/><circle cx="406.2" cy="480.0" r="1.7"/><circle cx="406.8" cy="479.3" r="1.7"/><circle cx="407.5" cy="478.7" r="1.7"/><circle cx="408.1" cy="478.1" r="1.7"/><circle cx="408.8" cy="478.0" r="1.7"/><circle cx="409.4" cy="477.4" r="1.7"/><circle cx="410.1" cy="477.3" r="1.7"/><circle cx="410.7" cy="476.8" r="1.7"/><circle cx="411.4" cy="476.7" r="1.7"/><circle cx="412.0" cy="476.1" r="1.7"/><circle cx="412.7" cy="475.8" r="1.7"/><circle cx="413.3" cy="475.6" r="1.7"/><circle cx="414.0" cy="475.7" r="1.7"/><circle cx="414.6" cy="475.4" r="1.7"/><circle cx="415.3" cy="475.1" r="1.7"/><circle cx="415.9" cy="474.8" r="1.7"/><circle cx="416.6" cy="475.0" r="1.7"/><circle cx="417.2" cy="475.0" r="1.7"/><circle cx="417.9" cy="474.6" r="1.7"/><circle cx="418.5" cy="474.1" r="1.7"/><circle cx="419.2" cy="474.0" r="1.7"/><circle cx="419.8" cy="473.8" r="1.7"/><circle cx="420.5" cy="473.7" r="1.7"/><circle cx="421.1" cy="473.4" r="1.7"/><circle cx="421.8" cy="473.2" r="1.7"/><circle cx="422.4" cy="473.4" r="1.7"/><circle cx="423.1" cy="473.3" r="1.7"/><circle cx="423.7" cy="472.8" r="1.7"/><circle cx="424.4" cy="473.0" r="1.7"/><circle cx="425.0" cy="472.5" r="1.7"/><circle cx="425.7" cy="472.5" r="1.7"/><circle cx="426.3" cy="472.4" r="1.7"/><circle cx="427.0" cy="472.2" r="1.7"/><circle cx="427.6" cy="471.5" r="1.7"/><circle cx="428.3" cy="471.4" r="1.7"/><circle cx="428.9" cy="471.4" r="1.7"/><circle cx="429.6" cy="471.3" r="1.7"/><circle cx="430.2" cy="470.6" r="1.7"/><circle cx="430.9" cy="470.5" r="1.7"/><circle cx="431.5" cy="470.5" r="1.7"/><circle cx="432.2" cy="469.9" r="1.7"/><circle cx="432.8" cy="469.7" r="1.7"/><circle cx="433.5" cy="469.4" r="1.7"/><circle cx="434.1" cy="469.3" r="1.7"/><circle cx="434.8" cy="469.1" r="1.7"/><circle cx="435.4" cy="468.4" r="1.7"/><circle cx="436.1" cy="468.4" r="1.7"/><circle cx="436.7" cy="468.0" r="1.7"/><circle cx="437.4" cy="467.7" r="1.7"/><circle cx="438.0" cy="467.2" r="1.7"/><circle cx="438.7" cy="467.0" r="1.7"/><circle cx="439.3" cy="466.4" r="1.7"/><circle cx="440.0" cy="466.0" r="1.7"/><circle cx="440.6" cy="465.5" r="1.7"/><circle cx="441.3" cy="465.4" r="1.7"/><circle cx="441.9" cy="464.9" r="1.7"/><circle cx="442.6" cy="464.4" r="1.7"/><circle cx="443.2" cy="464.1" r="1.7"/><circle cx="443.9" cy="464.0" r="1.7"/><circle cx="444.5" cy="463.6" r="1.7"/><circle cx="445.2" cy="463.4" r="1.7"/><circle cx="445.8" cy="462.9" r="1.7"/><circle cx="446.5" cy="462.7" r="1.7"/><circle cx="447.1" cy="462.2" r="1.7"/><circle cx="447.8" cy="462.2" r="1.7"/><circle cx="448.4" cy="461.6" r="1.7"/><circle cx="449.1" cy="461.6" r="1.7"/><circle cx="449.7" cy="461.5" r="1.7"/><circle cx="450.4" cy="461.2" r="1.7"/><circle cx="451.0" cy="460.7" r="1.7"/><circle cx="451.7" cy="460.5" r="1.7"/><circle cx="452.3" cy="460.7" r="1.7"/><circle cx="453.0" cy="460.4" r="1.7"/><circle cx="453.6" cy="460.3" r="1.7"/><circle cx="454.3" cy="460.2" r="1.7"/><circle cx="454.9" cy="459.9" r="1.7"/><circle cx="455.6" cy="460.0" r="1.7"/><circle cx="456.2" cy="459.8" r="1.7"/><circle cx="456.9" cy="459.6" r="1.7"/><circle cx="457.5" cy="459.5" r="1.7"/><circle cx="458.2" cy="459.4" r="1.7"/><circle cx="458.8" cy="459.5" r="1.7"/><circle cx="459.5" cy="459.9" r="1.7"/><circle cx="460.1" cy="459.5" r="1.7"/><circle cx="460.8" cy="459.9" r="1.7"/><circle cx="461.4" cy="459.8" r="1.7"/><circle cx="462.1" cy="460.0" r="1.7"/><circle cx="462.7" cy="460.5" r="1.7"/><circle cx="463.4" cy="460.6" r="1.7"/><circle cx="464.0" cy="460.7" r="1.7"/><circle cx="464.7" cy="461.1" r="1.7"/><circle cx="465.3" cy="461.7" r="1.7"/><circle cx="466.0" cy="461.9" r="1.7"/><circle cx="466.6" cy="462.0" r="1.7"/><circle cx="467.3" cy="462.5" r="1.7"/><circle cx="467.9" cy="463.2" r="1.7"/><circle cx="468.6" cy="463.2" r="1.7"/><circle cx="469.2" cy="463.7" r="1.7"/><circle cx="469.9" cy="464.0" r="1.7"/><circle cx="470.5" cy="464.5" r="1.7"/><circle cx="471.2" cy="464.6" r="1.7"/><circle cx="471.8" cy="465.0" r="1.7"/><circle cx="472.5" cy="465.1" r="1.7"/><circle cx="473.1" cy="465.1" r="1.7"/><circle cx="473.8" cy="465.2" r="1.7"/><circle cx="474.4" cy="465.3" r="1.7"/><circle cx="475.1" cy="465.7" r="1.7"/><circle cx="475.7" cy="465.4" r="1.7"/><circle cx="476.4" cy="465.4" r="1.7"/><circle cx="477.0" cy="465.8" r="1.7"/><circle cx="477.7" cy="465.3" r="1.7"/><circle cx="478.3" cy="465.6" r="1.7"/><circle cx="479.0" cy="465.1" r="1.7"/><circle cx="479.6" cy="465.2" r="1.7"/><circle cx="480.3" cy="465.0" r="1.7"/><circle cx="480.9" cy="465.2" r="1.7"/><circle cx="481.6" cy="465.0" r="1.7"/><circle cx="482.2" cy="465.0" r="1.7"/><circle cx="482.9" cy="464.9" r="1.7"/><circle cx="483.5" cy="464.9" r="1.7"/><circle cx="484.2" cy="464.6" r="1.7"/><circle cx="484.8" cy="464.6" r="1.7"/><circle cx="485.5" cy="464.5" r="1.7"/><circle cx="486.1" cy="464.3" r="1.7"/><circle cx="486.8" cy="464.6" r="1.7"/><circle cx="487.4" cy="464.4" r="1.7"/><circle cx="488.1" cy="464.5" r="1.7"/><circle cx="488.7" cy="464.1" r="1.7"/><circle cx="489.4" cy="464.3" r="1.7"/><circle cx="490.0" cy="464.3" r="1.7"/><circle cx="490.7" cy="464.4" r="1.7"/><circle cx="491.3" cy="464.1" r="1.7"/><circle cx="492.0" cy="464.2" r="1.7"/><circle cx="492.6" cy="464.3" r="1.7"/><circle cx="493.3" cy="464.1" r="1.7"/><circle cx="493.9" cy="464.4" r="1.7"/><circle cx="494.6" cy="464.5" r="1.7"/><circle cx="495.2" cy="464.4" r="1.7"/><circle cx="495.9" cy="464.5" r="1.7"/><circle cx="496.5" cy="464.5" r="1.7"/><circle cx="497.2" cy="464.3" r="1.7"/><circle cx="497.8" cy="464.3" r="1.7"/><circle cx="498.5" cy="464.7" r="1.7"/><circle cx="499.1" cy="464.4" r="1.7"/><circle cx="499.8" cy="464.4" r="1.7"/><circle cx="500.4" cy="464.2" r="1.7"/><circle cx="501.1" cy="464.3" r="1.7"/><circle cx="501.7" cy="464.3" r="1.7"/><circle cx="502.4" cy="464.7" r="1.7"/><circle cx="503.0" cy="464.6" r="1.7"/><circle cx="503.7" cy="464.7" r="1.7"/><circle cx="504.3" cy="464.7" r="1.7"/><circle cx="505.0" cy="464.6" r="1.7"/><circle cx="505.6" cy="464.7" r="1.7"/><circle cx="506.3" cy="464.5" r="1.7"/><circle cx="506.9" cy="464.5" r="1.7"/><circle cx="507.6" cy="464.7" r="1.7"/><circle cx="508.2" cy="464.7" r="1.7"/><circle cx="508.9" cy="464.7" r="1.7"/><circle cx="509.5" cy="464.5" r="1.7"/><circle cx="510.2" cy="464.6" r="1.7"/><circle cx="510.8" cy="464.4" r="1.7"/><circle cx="511.5" cy="464.7" r="1.7"/><circle cx="512.1" cy="464.6" r="1.7"/><circle cx="512.8" cy="464.2" r="1.7"/><circle cx="513.4" cy="464.5" r="1.7"/><circle cx="514.1" cy="464.0" r="1.7"/><circle cx="514.7" cy="463.8" r="1.7"/><circle cx="515.4" cy="464.0" r="1.7"/><circle cx="516.0" cy="463.6" r="1.7"/><circle cx="516.7" cy="463.5" r="1.7"/><circle cx="517.3" cy="463.3" r="1.7"/><circle cx="518.0" cy="462.8" r="1.7"/><circle cx="518.6" cy="462.9" r="1.7"/><circle cx="519.3" cy="462.5" r="1.7"/><circle cx="519.9" cy="462.3" r="1.7"/><circle cx="520.6" cy="462.0" r="1.7"/><circle cx="521.2" cy="461.9" r="1.7"/><circle cx="521.9" cy="461.5" r="1.7"/><circle cx="522.5" cy="460.9" r="1.7"/><circle cx="523.2" cy="460.4" r="1.7"/><circle cx="523.8" cy="460.0" r="1.7"/><circle cx="524.5" cy="459.5" r="1.7"/><circle cx="525.1" cy="458.7" r="1.7"/><circle cx="525.8" cy="458.1" r="1.7"/><circle cx="526.4" cy="457.7" r="1.7"/><circle cx="527.1" cy="456.8" r="1.7"/><circle cx="527.7" cy="456.1" r="1.7"/><circle cx="528.4" cy="455.0" r="1.7"/><circle cx="529.0" cy="453.7" r="1.7"/><circle cx="529.7" cy="452.2" r="1.7"/><circle cx="530.3" cy="450.8" r="1.7"/><circle cx="531.0" cy="449.7" r="1.7"/><circle cx="531.6" cy="448.5" r="1.7"/><circle cx="532.3" cy="447.4" r="1.7"/><circle cx="532.9" cy="446.1" r="1.7"/><circle cx="533.6" cy="444.7" r="1.7"/><circle cx="534.2" cy="443.4" r="1.7"/><circle cx="534.9" cy="441.4" r="1.7"/><circle cx="535.5" cy="439.8" r="1.7"/><circle cx="536.2" cy="438.2" r="1.7"/><circle cx="536.8" cy="436.3" r="1.7"/><circle cx="537.5" cy="434.3" r="1.7"/><circle cx="538.1" cy="432.4" r="1.7"/><circle cx="538.8" cy="430.9" r="1.7"/><circle cx="539.4" cy="428.7" r="1.7"/><circle cx="540.1" cy="426.9" r="1.7"/><circle cx="540.7" cy="425.3" r="1.7"/><circle cx="541.4" cy="423.3" r="1.7"/><circle cx="542.0" cy="420.7" r="1.7"/><circle cx="542.7" cy="418.0" r="1.7"/><circle cx="543.3" cy="415.4" r="1.7"/><circle cx="544.0" cy="413.1" r="1.7"/><circle cx="544.6" cy="410.5" r="1.7"/><circle cx="545.3" cy="408.5" r="1.7"/><circle cx="545.9" cy="406.3" r="1.7"/><circle cx="546.6" cy="404.4" r="1.7"/><circle cx="547.2" cy="402.2" r="1.7"/><circle cx="547.9" cy="400.7" r="1.7"/><circle cx="548.5" cy="399.4" r="1.7"/><circle cx="549.2" cy="398.7" r="1.7"/><circle cx="549.8" cy="397.9" r="1.7"/><circle cx="550.5" cy="397.3" r="1.7"/><circle cx="551.1" cy="397.6" r="1.7"/><circle cx="551.8" cy="397.6" r="1.7"/><circle cx="552.4" cy="398.1" r="1.7"/><circle cx="553.1" cy="398.2" r="1.7"/><circle cx="553.7" cy="399.5" r="1.7"/><circle cx="554.4" cy="399.5" r="1.7"/><circle cx="555.0" cy="399.7" r="1.7"/><circle cx="555.7" cy="399.9" r="1.7"/><circle cx="556.3" cy="400.9" r="1.7"/><circle cx="557.0" cy="401.7" r="1.7"/><circle cx="557.6" cy="402.2" r="1.7"/><circle cx="558.3" cy="403.0" r="1.7"/><circle cx="558.9" cy="403.2" r="1.7"/><circle cx="559.6" cy="402.6" r="1.7"/><circle cx="560.2" cy="402.6" r="1.7"/><circle cx="560.9" cy="403.5" r="1.7"/><circle cx="561.5" cy="403.6" r="1.7"/><circle cx="562.2" cy="403.2" r="1.7"/><circle cx="562.8" cy="403.8" r="1.7"/><circle cx="563.5" cy="403.7" r="1.7"/><circle cx="564.1" cy="403.7" r="1.7"/><circle cx="564.8" cy="404.1" r="1.7"/><circle cx="565.4" cy="404.4" r="1.7"/><circle cx="566.1" cy="405.8" r="1.7"/><circle cx="566.7" cy="406.7" r="1.7"/><circle cx="567.4" cy="407.2" r="1.7"/><circle cx="568.0" cy="407.2" r="1.7"/><circle cx="568.7" cy="408.0" r="1.7"/><circle cx="569.3" cy="408.9" r="1.7"/><circle cx="570.0" cy="409.3" r="1.7"/><circle cx="570.6" cy="409.5" r="1.7"/><circle cx="571.3" cy="409.8" r="1.7"/><circle cx="571.9" cy="410.5" r="1.7"/><circle cx="572.6" cy="410.6" r="1.7"/><circle cx="573.2" cy="411.1" r="1.7"/><circle cx="573.9" cy="412.4" r="1.7"/><circle cx="574.5" cy="413.4" r="1.7"/><circle cx="575.2" cy="413.3" r="1.7"/><circle cx="575.8" cy="413.7" r="1.7"/><circle cx="576.5" cy="414.1" r="1.7"/><circle cx="577.1" cy="414.8" r="1.7"/><circle cx="577.8" cy="415.9" r="1.7"/></g>
<text x="431.4" y="409.6" font-size="12.5" text-anchor="middle">1</text>
<text x="442.9" y="439.6" font-size="12.5" text-anchor="middle">2</text>
<text x="455.7" y="480.6" font-size="12.5" text-anchor="middle">3</text>
</svg>
</body></html>
